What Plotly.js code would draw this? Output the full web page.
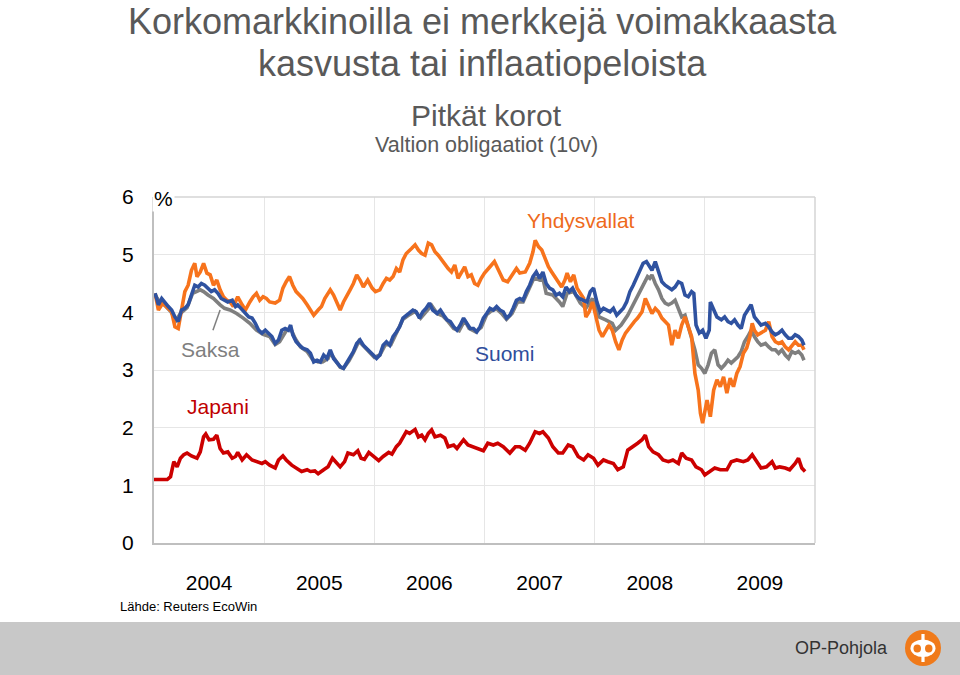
<!DOCTYPE html>
<html>
<head>
<meta charset="utf-8">
<script src="https://cdn.plot.ly/plotly-3.0.1.min.js"></script>
<style>html,body{margin:0;padding:0;background:#fff;}#chart{width:960px;height:675px;}</style>
</head>
<body>
<div id="chart"></div>
<script>
// ---- Data (time in decimal years) ----
const years = [2004, 2005, 2006, 2007, 2008, 2009];
const yearLabels = ["2004", "2005", "2006", "2007", "2008", "2009"];

const seriesNames = ["Yhdysvallat", "Suomi", "Saksa", "Japani"];

// Yhdysvallat (USA)
const usT = [2004.01,2004.04,2004.08,2004.13,2004.16,2004.19,2004.22,2004.25,2004.28,2004.31,
2004.34,2004.37,2004.39,2004.42,2004.45,2004.48,2004.51,2004.54,2004.57,2004.60,
2004.63,2004.66,2004.69,2004.72,2004.74,2004.76,2004.80,2004.83,2004.87,2004.90,
2004.93,2004.96,2004.99,
2005.02,2005.05,2005.10,2005.14,2005.17,2005.20,2005.23,2005.26,2005.29,2005.32,
2005.35,2005.39,2005.42,2005.45,2005.49,2005.52,2005.55,2005.60,2005.63,2005.66,
2005.69,2005.72,2005.75,2005.78,2005.81,2005.84,2005.87,2005.90,2005.94,2005.98,
2006.01,2006.05,2006.08,2006.11,2006.14,2006.17,2006.20,2006.23,2006.26,2006.29,
2006.34,2006.37,2006.40,2006.43,2006.46,2006.49,2006.52,2006.55,2006.58,2006.61,
2006.64,2006.67,2006.70,2006.73,2006.76,2006.79,2006.82,2006.85,2006.88,2006.91,
2006.94,2006.97,
2007.00,2007.05,2007.09,2007.12,2007.17,2007.21,2007.26,2007.29,2007.32,2007.37,
2007.41,2007.44,2007.46,2007.49,2007.52,2007.55,2007.58,2007.61,2007.64,2007.67,
2007.70,2007.73,2007.75,2007.78,2007.81,2007.84,2007.87,2007.90,2007.92,2007.95,
2007.98,
2008.01,2008.04,2008.07,2008.10,2008.13,2008.16,2008.19,2008.22,2008.25,2008.28,
2008.32,2008.36,2008.39,2008.43,2008.46,2008.49,2008.52,2008.55,2008.58,2008.61,
2008.64,2008.67,2008.70,2008.73,2008.76,2008.79,2008.82,2008.85,2008.88,2008.91,
2008.94,2008.96,2008.98,
2009.02,2009.05,2009.08,2009.11,2009.14,2009.17,2009.20,2009.23,2009.26,2009.29,
2009.32,2009.35,2009.38,2009.41,2009.43,2009.45,2009.48,2009.51,2009.55,2009.58,
2009.61,2009.64,2009.67,2009.70,2009.73,2009.76,2009.79,2009.82,2009.85,2009.88,
2009.90];
const usV = [4.33,4.04,4.16,4.07,4.01,3.75,3.72,4.04,4.36,4.47,
4.73,4.85,4.62,4.70,4.85,4.68,4.65,4.47,4.56,4.39,
4.27,4.21,4.18,4.10,4.18,4.27,4.13,4.04,4.18,4.27,
4.33,4.21,4.27,
4.24,4.18,4.16,4.21,4.42,4.53,4.62,4.47,4.36,4.30,
4.24,4.13,4.04,3.95,4.04,4.10,4.24,4.39,4.30,4.18,
4.04,4.18,4.30,4.39,4.50,4.65,4.56,4.44,4.56,4.42,
4.36,4.39,4.50,4.59,4.56,4.62,4.76,4.70,4.91,5.02,
5.11,5.17,5.08,5.02,4.99,5.20,5.17,5.05,4.99,4.91,
4.85,4.76,4.70,4.82,4.59,4.68,4.79,4.62,4.65,4.50,
4.47,4.59,
4.68,4.79,4.88,4.76,4.56,4.53,4.68,4.76,4.68,4.70,
4.85,5.05,5.25,5.14,5.08,4.94,4.79,4.70,4.62,4.53,
4.44,4.56,4.68,4.53,4.65,4.42,4.33,4.24,3.92,4.01,
4.18,
3.92,3.69,3.58,3.69,3.78,3.69,3.49,3.35,3.52,3.64,
3.75,3.84,3.90,4.01,4.24,4.10,3.98,4.07,4.01,3.90,
3.84,3.78,3.43,3.69,3.55,3.78,3.92,3.75,3.58,2.94,
2.65,2.25,2.08,
2.48,2.19,2.65,2.83,2.71,2.88,2.60,2.86,2.71,2.94,
3.06,3.29,3.38,3.58,3.81,3.69,3.61,3.64,3.69,3.84,
3.58,3.49,3.46,3.49,3.40,3.35,3.43,3.49,3.43,3.43,
3.35];

// Suomi (Finland)
const fiT = [2004.01,2004.04,2004.07,2004.10,2004.13,2004.16,2004.19,2004.22,2004.25,2004.28,
2004.31,2004.34,2004.37,2004.40,2004.43,2004.46,2004.49,2004.52,2004.55,2004.58,
2004.61,2004.64,2004.67,2004.71,2004.74,2004.76,2004.80,2004.83,2004.86,2004.89,
2004.92,2004.95,2004.98,2005.01,2005.04,2005.07,2005.10,2005.13,2005.16,2005.19,
2005.22,2005.24,2005.26,2005.29,2005.32,2005.35,2005.39,2005.42,2005.45,2005.48,
2005.51,2005.54,2005.57,2005.60,2005.63,2005.66,2005.69,2005.72,2005.75,2005.78,
2005.81,2005.84,2005.87,2005.90,2005.93,2005.96,2005.99,2006.02,2006.05,2006.08,
2006.11,2006.14,2006.17,2006.20,2006.23,2006.26,2006.29,2006.32,2006.35,2006.38,
2006.41,2006.44,2006.47,2006.50,2006.53,2006.57,2006.60,2006.63,2006.66,2006.69,
2006.72,2006.75,2006.78,2006.81,2006.84,2006.87,2006.90,2006.93,2006.96,2006.99,
2007.02,2007.05,2007.08,2007.11,2007.14,2007.17,2007.20,2007.23,2007.26,2007.29,
2007.32,2007.35,2007.38,2007.41,2007.44,2007.47,2007.50,2007.53,2007.56,2007.59,
2007.62,2007.65,2007.68,2007.71,2007.74,2007.77,2007.80,2007.83,2007.86,2007.90,
2007.93,2007.96,2007.99,2008.02,2008.05,2008.08,2008.11,2008.14,2008.17,2008.20,
2008.23,2008.26,2008.29,2008.32,2008.35,2008.38,2008.41,2008.44,2008.47,2008.50,
2008.52,2008.55,2008.58,2008.61,2008.64,2008.67,2008.70,2008.73,2008.76,2008.79,
2008.82,2008.85,2008.88,2008.90,2008.92,2008.95,2008.98,2009.01,2009.04,2009.05,
2009.08,2009.11,2009.15,2009.18,2009.21,2009.24,2009.27,2009.30,2009.33,2009.36,
2009.39,2009.42,2009.45,2009.48,2009.51,2009.55,2009.58,2009.61,2009.64,2009.67,
2009.70,2009.73,2009.76,2009.79,2009.82,2009.85,2009.88,2009.90];
const fiV = [4.33,4.13,4.24,4.16,4.10,4.04,3.92,3.84,4.04,4.07,
4.13,4.30,4.47,4.44,4.50,4.47,4.42,4.36,4.39,4.33,
4.24,4.21,4.18,4.21,4.10,4.13,4.04,3.98,3.92,3.90,
3.81,3.69,3.64,3.69,3.64,3.58,3.46,3.52,3.69,3.72,
3.69,3.78,3.61,3.49,3.43,3.38,3.35,3.29,3.14,3.17,
3.14,3.26,3.20,3.35,3.20,3.12,3.06,3.03,3.12,3.23,
3.32,3.46,3.52,3.43,3.38,3.32,3.26,3.20,3.26,3.43,
3.49,3.43,3.58,3.66,3.75,3.90,3.95,3.98,4.04,4.01,
3.90,4.01,4.07,4.16,4.04,3.98,4.04,3.95,3.87,3.84,
3.75,3.69,3.78,3.90,3.81,3.72,3.72,3.66,3.75,3.90,
3.98,4.07,4.04,4.10,4.04,4.01,3.90,3.95,4.07,4.21,
4.24,4.21,4.36,4.47,4.62,4.70,4.59,4.70,4.50,4.42,
4.39,4.30,4.33,4.27,4.44,4.36,4.42,4.30,4.24,4.21,
4.18,4.36,4.42,4.18,4.01,4.07,4.04,4.01,4.07,3.95,
4.01,4.07,4.18,4.36,4.47,4.59,4.70,4.85,4.88,4.79,
4.73,4.88,4.70,4.53,4.47,4.42,4.39,4.44,4.53,4.50,
4.30,4.27,4.36,4.33,3.78,3.64,3.69,3.55,3.69,4.18,
4.04,3.92,3.87,3.92,3.84,3.81,3.87,3.78,3.72,3.95,
4.04,4.13,3.92,3.84,3.78,3.81,3.75,3.66,3.61,3.64,
3.69,3.61,3.55,3.55,3.61,3.58,3.52,3.43];

// Saksa (Germany)
const deT = [2004.01,2004.05,2004.10,2004.15,2004.20,2004.24,2004.30,2004.35,2004.42,2004.45,
2004.49,2004.54,2004.60,2004.64,2004.69,2004.75,2004.81,2004.87,2004.93,2004.99,
2005.05,2005.10,2005.14,2005.20,2005.24,2005.28,2005.33,2005.39,2005.44,2005.49,
2005.53,2005.58,2005.60,2005.64,2005.69,2005.72,2005.77,2005.81,2005.86,2005.90,
2005.96,2006.00,2006.05,2006.10,2006.15,2006.20,2006.26,2006.32,2006.37,2006.42,
2006.48,2006.52,2006.57,2006.62,2006.67,2006.72,2006.77,2006.82,2006.86,2006.92,
2006.97,2007.02,2007.06,2007.11,2007.16,2007.20,2007.25,2007.30,2007.35,2007.40,
2007.45,2007.50,2007.53,2007.56,2007.62,2007.68,2007.71,2007.75,2007.81,2007.87,
2007.92,2007.98,2008.04,2008.10,2008.16,2008.19,2008.24,2008.30,2008.36,2008.42,
2008.48,2008.50,2008.52,2008.55,2008.58,2008.61,2008.64,2008.67,2008.70,2008.73,
2008.76,2008.79,2008.82,2008.85,2008.88,2008.91,2008.94,2008.97,2009.00,2009.03,
2009.06,2009.09,2009.12,2009.15,2009.18,2009.21,2009.24,2009.27,2009.30,2009.33,
2009.36,2009.39,2009.42,2009.45,2009.48,2009.51,2009.55,2009.58,2009.61,2009.64,
2009.67,2009.70,2009.73,2009.76,2009.79,2009.82,2009.85,2009.88,2009.90];
const deV = [4.30,4.18,4.12,4.02,3.86,3.98,4.08,4.33,4.39,4.36,
4.30,4.24,4.13,4.07,4.04,3.98,3.90,3.81,3.69,3.62,
3.58,3.44,3.49,3.68,3.72,3.55,3.40,3.32,3.18,3.14,
3.14,3.20,3.30,3.18,3.05,3.03,3.16,3.30,3.50,3.42,
3.30,3.22,3.26,3.44,3.44,3.65,3.88,3.96,4.02,3.90,
4.04,4.12,3.98,3.94,3.84,3.72,3.68,3.86,3.72,3.66,
3.74,3.96,4.02,4.06,3.97,3.88,3.98,4.18,4.18,4.40,
4.60,4.56,4.59,4.33,4.30,4.18,4.10,4.33,4.36,4.16,
4.07,4.24,3.92,3.87,3.81,3.69,3.78,3.95,4.18,4.39,
4.62,4.59,4.65,4.50,4.39,4.24,4.16,4.13,4.16,4.21,
4.07,3.92,3.95,3.75,3.58,3.35,3.09,3.03,2.94,3.09,
3.29,3.35,3.09,3.03,3.09,3.17,3.12,3.17,3.23,3.32,
3.49,3.58,3.69,3.58,3.49,3.43,3.46,3.40,3.35,3.35,
3.29,3.35,3.26,3.20,3.32,3.29,3.32,3.26,3.17];

// Japani (Japan)
const jpT = [2004.00,2004.12,2004.15,2004.18,2004.21,2004.24,2004.27,2004.30,2004.34,2004.39,
2004.42,2004.45,2004.47,2004.50,2004.54,2004.57,2004.60,2004.63,2004.67,2004.71,
2004.74,2004.76,2004.80,2004.84,2004.89,2004.93,2004.98,2005.01,2005.05,2005.10,
2005.13,2005.17,2005.20,2005.25,2005.29,2005.34,2005.39,2005.42,2005.46,2005.49,
2005.54,2005.58,2005.62,2005.66,2005.69,2005.73,2005.76,2005.81,2005.85,2005.88,
2005.91,2005.95,2005.99,2006.04,2006.08,2006.13,2006.16,2006.20,2006.23,2006.26,
2006.29,2006.32,2006.37,2006.40,2006.43,2006.46,2006.49,2006.52,2006.55,2006.60,
2006.64,2006.67,2006.72,2006.75,2006.81,2006.85,2006.90,2006.94,2006.99,2007.03,
2007.08,2007.12,2007.17,2007.23,2007.28,2007.32,2007.37,2007.41,2007.46,2007.50,
2007.53,2007.58,2007.62,2007.67,2007.71,2007.76,2007.80,2007.85,2007.90,2007.94,
2007.99,2008.03,2008.08,2008.12,2008.17,2008.21,2008.26,2008.30,2008.35,2008.39,
2008.43,2008.46,2008.49,2008.53,2008.58,2008.62,2008.67,2008.71,2008.76,2008.79,
2008.83,2008.88,2008.92,2008.97,2009.00,2009.05,2009.09,2009.14,2009.20,2009.24,
2009.29,2009.35,2009.39,2009.43,2009.47,2009.51,2009.56,2009.61,2009.64,2009.68,
2009.73,2009.77,2009.82,2009.85,2009.88,2009.91];
const jpV = [1.10,1.10,1.15,1.41,1.32,1.47,1.53,1.56,1.51,1.47,
1.58,1.84,1.89,1.79,1.80,1.87,1.64,1.56,1.58,1.47,
1.50,1.57,1.44,1.53,1.44,1.41,1.38,1.41,1.35,1.30,
1.44,1.51,1.44,1.35,1.30,1.24,1.27,1.24,1.25,1.20,
1.27,1.32,1.47,1.38,1.32,1.41,1.56,1.53,1.60,1.47,
1.45,1.57,1.50,1.43,1.50,1.57,1.54,1.67,1.73,1.82,
1.93,1.90,1.97,1.84,1.87,1.79,1.90,1.96,1.84,1.87,
1.82,1.67,1.70,1.64,1.79,1.70,1.67,1.64,1.60,1.73,
1.70,1.73,1.67,1.56,1.67,1.67,1.61,1.73,1.93,1.90,
1.93,1.82,1.67,1.56,1.56,1.70,1.67,1.50,1.44,1.53,
1.47,1.35,1.44,1.41,1.38,1.27,1.32,1.61,1.67,1.73,
1.79,1.87,1.67,1.58,1.53,1.44,1.41,1.44,1.38,1.56,
1.47,1.44,1.32,1.27,1.18,1.24,1.30,1.27,1.27,1.41,
1.44,1.41,1.44,1.53,1.41,1.30,1.32,1.41,1.30,1.32,
1.30,1.27,1.38,1.47,1.30,1.24];

// ---- Styling / layout ----
const FONT = "'Liberation Sans', Arial, Helvetica, sans-serif";
const COL = {us: "#F7731C", fi: "#2F52A0", de: "#7F7F7F", jp: "#CC0000"};
const L = 154, R = 815, T = 197, B = 543;
const px = x => (x - L) / (R - L);
const py = y => (B - y) / (B - T);

function line(xs, ys, color, name) {
  return {x: xs, y: ys, type: "scatter", mode: "lines", name: name,
          line: {color: color, width: 3.6}, hoverinfo: "skip"};
}

const traces = [
  line(jpT, jpV, COL.jp, seriesNames[3]),
  line(deT, deV, COL.de, seriesNames[2]),
  line(usT, usV, COL.us, seriesNames[0]),
  line(fiT, fiV, COL.fi, seriesNames[1])
];

function pAnn(text, x, y, size, color, xanchor) {
  return {text: text, xref: "paper", yref: "paper", x: px(x), y: py(y),
          xanchor: xanchor || "center", yanchor: "middle", showarrow: false,
          font: {family: FONT, size: size, color: color}};
}
function dAnn(text, x, y, color) {
  return {text: text, xref: "x", yref: "y", x: x, y: y, xanchor: "center", yanchor: "middle",
          showarrow: false, font: {family: FONT, size: 21, color: color}};
}

const annotations = [
  pAnn("Korkomarkkinoilla ei merkkejä voimakkaasta", 482, 22, 36, "#595959"),
  pAnn("kasvusta tai inflaatiopeloista", 482, 63, 36, "#595959"),
  pAnn("Pitkät korot", 486, 115, 30, "#595959"),
  pAnn("Valtion obligaatiot (10v)", 486, 145, 21.5, "#595959"),
  Object.assign(pAnn("%", 163, 198, 21, "#000"), {bgcolor: "#ffffff"}),
  dAnn(seriesNames[0], 2007.88, 5.60, "#EE6A1C"),
  dAnn(seriesNames[1], 2007.19, 3.29, "#2F4E9C"),
  dAnn(seriesNames[2], 2004.51, 3.36, "#7F7F7F"),
  dAnn(seriesNames[3], 2004.58, 2.36, "#C00000"),
  pAnn("Lähde: Reuters EcoWin", 118, 606, 13, "#000", "left"),
  pAnn("OP-Pohjola", 890, 648, 18, "#333333", "right")
];

const shapes = [
  {type: "rect", xref: "paper", yref: "paper", x0: px(0), x1: px(960), y0: py(675), y1: py(622),
   fillcolor: "#C8C8C8", line: {width: 0}, layer: "below"},
  {type: "line", xref: "paper", yref: "paper", x0: 0, x1: 1, y0: 1, y1: 1,
   line: {color: "#D4D4D4", width: 1.5}},
  {type: "line", xref: "paper", yref: "paper", x0: 1, x1: 1, y0: 0, y1: 1,
   line: {color: "#D4D4D4", width: 1.5}},
  {type: "line", xref: "x", yref: "y", x0: 2004.535, y0: 3.69, x1: 2004.60, y1: 4.04,
   line: {color: "#7F7F7F", width: 1.5}},
  // logo
  {type: "circle", xref: "paper", yref: "paper", x0: px(905), x1: px(941), y0: py(666), y1: py(630),
   fillcolor: "#F07A1A", line: {width: 0}},
  {type: "circle", xref: "paper", yref: "paper", x0: px(910.5), x1: px(935.5), y0: py(657), y1: py(639.5),
   fillcolor: "#ffffff", line: {width: 0}},
  {type: "circle", xref: "paper", yref: "paper", x0: px(913.5), x1: px(921), y0: py(652.5), y1: py(644.5),
   fillcolor: "#F07A1A", line: {width: 0}},
  {type: "circle", xref: "paper", yref: "paper", x0: px(925), x1: px(932.5), y0: py(652.5), y1: py(644.5),
   fillcolor: "#F07A1A", line: {width: 0}},
  {type: "rect", xref: "paper", yref: "paper", x0: px(921.4), x1: px(924.6), y0: py(662), y1: py(634),
   fillcolor: "#ffffff", line: {width: 0}}
];

const layout = {
  width: 960, height: 675,
  margin: {l: L, r: 960 - R, t: T, b: 675 - B, pad: 0},
  paper_bgcolor: "#ffffff", plot_bgcolor: "#ffffff",
  showlegend: false,
  font: {family: FONT, color: "#000"},
  xaxis: {
    range: [2004, 2010], tickmode: "array",
    tickvals: years.map(y => y + 0.5), ticktext: yearLabels,
    showgrid: false, zeroline: false, ticks: "",
    showline: true, linecolor: "#BFBFBF", linewidth: 2,
    tickfont: {family: FONT, size: 21, color: "#000"},
    ticklabelstandoff: 20,
    minor: {tick0: 2004, dtick: 1, showgrid: true, gridcolor: "#E6E6E6", gridwidth: 1, ticks: ""}
  },
  yaxis: {
    range: [0, 6], tick0: 0, dtick: 1,
    showgrid: true, gridcolor: "#E6E6E6", gridwidth: 1, zeroline: false, ticks: "",
    showline: true, linecolor: "#BFBFBF", linewidth: 2,
    tickfont: {family: FONT, size: 21, color: "#000"},
    ticklabelstandoff: 14
  },
  annotations: annotations,
  shapes: shapes
};

Plotly.newPlot("chart", traces, layout, {displayModeBar: false, staticPlot: true});
</script>
</body>
</html>
